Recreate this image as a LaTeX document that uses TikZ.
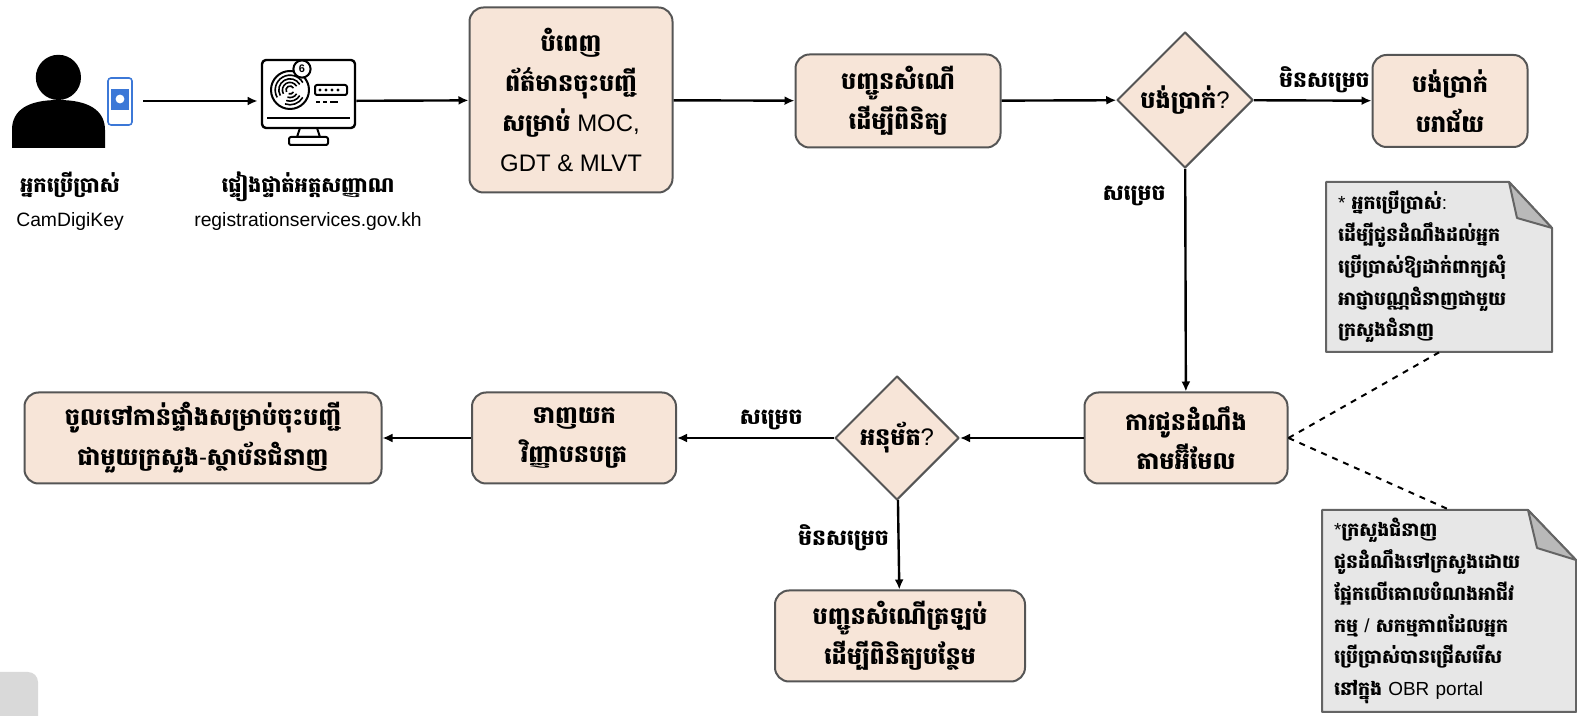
\documentclass[tikz,border=0pt]{standalone}
\usepackage{fontspec}
\setmainfont{Liberation Sans}
\newfontfamily\khfont[Script=Khmer]{Battambang}
\newcommand\kh{\khfont\bfseries}
\usetikzlibrary{arrows.meta}
\usetikzlibrary{shapes, calc}
\definecolor{boxfill}{RGB}{247,229,216}
\definecolor{boxline}{RGB}{85,85,85}
\definecolor{notefill}{RGB}{231,231,231}
\definecolor{noteline}{RGB}{100,100,100}
\definecolor{foldfill}{RGB}{185,185,185}
\definecolor{phoneblue}{RGB}{60,120,215}
\begin{document}
\begin{tikzpicture}[>={Latex[length=5bp,width=4.5bp]},line join=round,
  procbox/.style={draw=boxline,fill=boxfill,line width=1bp,rounded corners=7bp,align=center,inner sep=0pt,font=\fontsize{12}{20}\selectfont},
  decision/.style={diamond,draw=boxline,fill=boxfill,line width=1bp,inner sep=0pt,label={[font=\fontsize{12}{20}\selectfont]center:#1}},
  notetext/.style={align=left,inner xsep=6bp,inner ysep=3bp,font=\fontsize{9.5}{16}\selectfont},
  edgelabel/.style={font=\fontsize{11}{12}\selectfont\kh},
  iconlabel/.style={align=center,font=\fontsize{9.7}{17}\selectfont},
  flow/.style={black,->,line width=1.2bp},
]
\useasboundingbox (0,0) rectangle (788.5bp,358bp);
%%
% icons
\fill [black] (29.2bp,319.3bp) circle (11.3bp);
\fill [black] (6bp,284bp) -- (6bp,293bp) .. controls (6bp,303bp) and (14bp,308bp) .. (29.2bp,308bp) .. controls (44bp,308bp) and (52.5bp,303bp) .. (52.5bp,293bp) -- (52.5bp,284bp) -- cycle;
\draw [phoneblue,line width=0.8bp,rounded corners=1.5bp] (54bp,295.5bp) rectangle (66bp,319bp);
\fill [phoneblue] (55.6bp,303bp) rectangle (64.4bp,313.5bp);
\fill [white] (60bp,308.5bp) circle (2.2bp);
\draw [black,line width=1.2bp,rounded corners=2bp] (131bp,294bp) rectangle (177.5bp,328bp);
\draw [black,line width=1bp] (133.5bp,299bp) -- (175bp,299bp);
\draw [black,line width=1bp] (150bp,294bp) -- (148.5bp,289.5bp) -- (160bp,289.5bp) -- (158.5bp,294bp);
\draw [black,line width=1bp,rounded corners=1bp] (144.5bp,289.5bp) rectangle (164bp,285.5bp);
\draw [black,line width=1bp] (145bp,313bp) circle (9.5bp);
\foreach \r in {2,3.8,5.6,7.4} {
  \draw [black,line width=0.8bp] (145bp,313bp) ++(210:\r bp) arc (210:30:\r bp);
  \draw [black,line width=0.8bp] (145bp,313bp) ++(250:\r bp) arc (250:330:\r bp);
}
\draw [black,line width=1bp,fill=white] (151bp,323.5bp) circle (4.3bp);
\node at (151bp,323.5bp) [font=\fontsize{5.5}{6}\selectfont\bfseries] {6};
\draw [black,line width=1bp,rounded corners=1bp] (157.5bp,310.5bp) rectangle (173.5bp,315.5bp);
\foreach \x in {160,163,166,169} {
  \fill [black] (\x bp,313bp) circle (0.8bp);
}
\fill [black] (158bp,306.3bp) rectangle (160bp,307.7bp);
\fill [black] (161.5bp,306.3bp) rectangle (163.5bp,307.7bp);
\fill [black] (165bp,306.3bp) rectangle (169bp,307.7bp);
%
\node (user) at (36bp,307.5bp) [minimum width=71bp,minimum height=50bp] {};
\node (verify) at (153.5bp,307.5bp) [minimum width=49bp,minimum height=44bp] {};
\node (user_lbl) at (35bp,257.5bp) [iconlabel] {{\kh\fontsize{10.5}{17}\selectfont អ្នកប្រើប្រាស់}\\CamDigiKey};
\node (verify_lbl) at (154bp,257.5bp) [iconlabel] {{\kh\fontsize{10.5}{17}\selectfont ផ្ទៀងផ្ទាត់អត្តសញ្ញាណ}\\registrationservices.gov.kh};
%
\node (fill_form) at (285.5bp,308bp) [procbox,minimum width=101.5bp,minimum height=92.5bp] {{\kh បំពេញ}\\{\kh ព័ត៌មានចុះបញ្ជី}\\{\kh សម្រាប់} MOC,\\GDT \& MLVT};
\node (submit) at (449bp,307.5bp) [procbox,minimum width=102.5bp,minimum height=46.5bp] {{\kh បញ្ជូនសំណើ}\\{\kh ដើម្បីពិនិត្យ}};
\node (pay) at (592.5bp,308bp) [decision={{\kh បង់ប្រាក់}?},minimum width=68bp,minimum height=68bp] {};
\node (pay_fail) at (725bp,307.5bp) [procbox,minimum width=77.5bp,minimum height=46bp] {{\kh បង់ប្រាក់}\\{\kh បរាជ័យ}};
\node (email) at (593bp,139bp) [procbox,minimum width=101.5bp,minimum height=45.5bp] {{\kh ការជូនដំណឹង}\\{\kh តាមអ៊ីមែល}};
\node (approve) at (448.5bp,139bp) [decision={{\kh អនុម័ត}?},minimum width=62bp,minimum height=62bp] {};
\node (download) at (287bp,139bp) [procbox,minimum width=102bp,minimum height=45.5bp] {{\kh ទាញយក}\\{\kh វិញ្ញាបនបត្រ}};
\node (enter) at (101.5bp,139bp) [procbox,minimum width=178.5bp,minimum height=45.5bp] {{\kh ចូលទៅកាន់ផ្ទាំងសម្រាប់ចុះបញ្ជី}\\{\kh ជាមួយក្រសួង}-{\kh ស្ថាប័នជំនាញ}};
\node (resubmit) at (450bp,40bp) [procbox,minimum width=125bp,minimum height=45.5bp] {{\kh បញ្ជូនសំណើត្រឡប់}\\{\kh ដើម្បីពិនិត្យបន្ថែម}};
%
% notes
\filldraw [fill=notefill,draw=noteline,line width=1bp] (663bp,182bp) -- (663bp,267bp) -- (754.5bp,267bp) -- (776bp,244bp) -- (776bp,182bp) -- cycle;
\filldraw [fill=foldfill,draw=noteline,line width=1bp] (754.5bp,267bp) -- (758.5bp,249bp) -- (776bp,244bp) -- cycle;
\node (note_user) at (719.5bp,224.5bp) [notetext,minimum width=113bp,minimum height=85bp,text width=101bp] {* {\kh អ្នកប្រើប្រាស់}:\\{\kh ដើម្បីជូនដំណឹងដល់អ្នក}\\{\kh ប្រើប្រាស់ឱ្យដាក់ពាក្យសុំ}\\{\kh អាជ្ញាបណ្ណជំនាញជាមួយ}\\{\kh ក្រសួងជំនាញ}};
\filldraw [fill=notefill,draw=noteline,line width=1bp] (661bp,2bp) -- (661bp,103bp) -- (764bp,103bp) -- (788bp,78bp) -- (788bp,2bp) -- cycle;
\filldraw [fill=foldfill,draw=noteline,line width=1bp] (764bp,103bp) -- (768.5bp,84bp) -- (788bp,78bp) -- cycle;
\node (note_min) at (724.5bp,52.5bp) [notetext,minimum width=127bp,minimum height=101bp,text width=115bp] {*{\kh ក្រសួងជំនាញ}\\{\kh ជូនដំណឹងទៅក្រសួងដោយ}\\{\kh ផ្អែកលើគោលបំណងអាជីវ}\\{\kh កម្ម} / {\kh សកម្មភាពដែលអ្នក}\\{\kh ប្រើប្រាស់បានជ្រើសរើស}\\{\kh នៅក្នុង} OBR portal};
\fill [gray!30,rounded corners=5bp] (-10bp,-10bp) rectangle (19bp,22bp);
%
\draw [flow] (user) -- (verify);
\draw [flow] (verify) -- (fill_form);
\draw [flow] (fill_form) -- (submit);
\draw [flow] (submit) -- (pay);
\draw [flow] (pay) -- node [above,edgelabel,pos=0.6] {មិនសម្រេច} (pay_fail);
\draw [flow] (pay) -- node [edgelabel,left=6bp,pos=0.12] {សម្រេច} (email);
\draw [flow] (email) -- (approve);
\draw [flow] (approve) -- node [above,edgelabel,pos=0.4] {សម្រេច} (download);
\draw [flow] (download) -- (enter);
\draw [flow] (approve) -- node [edgelabel,left=1bp,pos=0.42] {មិនសម្រេច} (resubmit);
\draw [black,dashed,line width=1bp] (email.east) -- (note_user.south);
\draw [black,dashed,line width=1bp] (email.east) -- (note_min.north);
%
\end{tikzpicture}
\end{document}
